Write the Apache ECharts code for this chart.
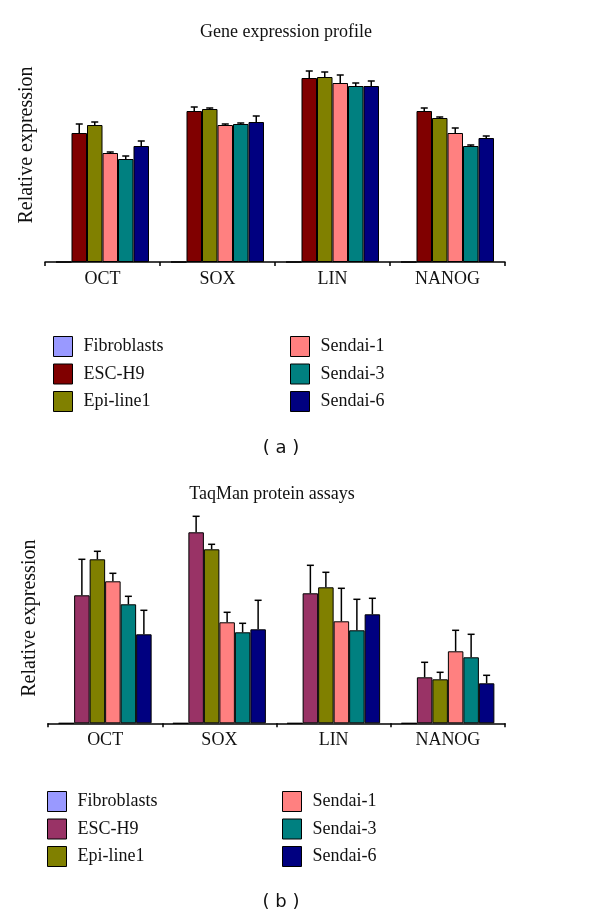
<!DOCTYPE html>
<html><head><meta charset="utf-8">
<script src="https://cdn.jsdelivr.net/npm/echarts@6/dist/echarts.min.js"></script>
<style>html,body{margin:0;padding:0;background:#fff;}#a{position:absolute;left:0;top:0;width:600px;height:460px;}#b{position:absolute;left:0;top:460px;width:600px;height:457px;}</style>
</head><body><div id="a"></div><div id="b"></div>
<script>
const categories = ['OCT','SOX','LIN','NANOG'];
const seriesNames = ['Fibroblasts','ESC-H9','Epi-line1','Sendai-1','Sendai-3','Sendai-6'];
const colorsA = ['#9999FF','#800000','#808000','#FF8080','#008080','#000080'];
const colorsB = ['#9999FF','#993366','#808000','#FF8080','#008080','#000080'];

// (a) Gene expression profile
const geneFib  = [0,0,0,0];
const geneEsc  = [1.29,1.51,1.84,1.51];
const geneEpi  = [1.37,1.53,1.85,1.44];
const geneS1   = [1.09,1.37,1.79,1.29];
const geneS3   = [1.03,1.38,1.76,1.16];
const geneS6   = [1.16,1.40,1.76,1.24];
// upper ends of error bars
const geneEscErr = [1.38,1.55,1.91,1.54];
const geneEpiErr = [1.40,1.54,1.90,1.45];
const geneS1Err  = [1.10,1.38,1.87,1.34];
const geneS3Err  = [1.06,1.39,1.79,1.17];
const geneS6Err  = [1.21,1.46,1.81,1.26];

// (b) TaqMan protein assays
const protFib  = [0,0,0,0];
const protEsc  = [1.28,1.91,1.30,0.46];
const protEpi  = [1.64,1.74,1.36,0.44];
const protS1   = [1.42,1.01,1.02,0.72];
const protS3   = [1.19,0.91,0.93,0.66];
const protS6   = [0.89,0.94,1.09,0.40];
const protEscErr = [1.64,2.07,1.58,0.61];
const protEpiErr = [1.72,1.79,1.51,0.51];
const protS1Err  = [1.50,1.11,1.35,0.93];
const protS3Err  = [1.27,1.00,1.24,0.89];
const protS6Err  = [1.13,1.23,1.25,0.48];

const SERIF = '"Liberation Serif", "Times New Roman", serif';
const BW = 15.5;

function build(el, cfg){
  const chart = echarts.init(document.getElementById(el), null, {renderer:'canvas'});
  const series = [];
  cfg.values.forEach((vals, i) => {
    series.push({
      name: seriesNames[i], type: 'bar', data: vals, barWidth: BW, barGap: '0%',
      itemStyle: {color: cfg.colors[i], borderColor: '#000', borderWidth: 1},
      emphasis: {disabled: true}, z: 2
    });
  });
  cfg.errs.forEach((errs, k) => {
    if (!errs) return;
    const idx = k;
    series.push({
      type: 'custom', name: seriesNames[idx] + '-err', z: 3, silent: true,
      data: errs.map((e, c) => [c, cfg.values[idx][c], e]),
      encode: {x: 0, y: [1, 2]},
      renderItem: function(params, api){
        const c = api.value(0);
        const base = api.coord([c, api.value(1)]);
        const top = api.coord([c, api.value(2)]);
        const x = base[0] + (idx - 2.5) * BW;
        return {type: 'group', children: [
          {type: 'line', shape: {x1: x, y1: base[1], x2: x, y2: top[1]}, style: {stroke: '#000', lineWidth: 1.5}},
          {type: 'line', shape: {x1: x - 3.5, y1: top[1], x2: x + 3.5, y2: top[1]}, style: {stroke: '#000', lineWidth: 1.5}}
        ]};
      }
    });
  });
  const legendCommon = {
    orient: 'vertical', padding: 0, itemWidth: 19, itemHeight: 20, itemGap: 6.5,
    icon: 'rect', selectedMode: false,
    itemStyle: {borderColor: '#000', borderWidth: 1},
    textStyle: {fontFamily: SERIF, fontSize: 18, color: '#111', lineHeight: 20, padding: [0,0,0,6]}
  };
  chart.setOption({
    animation: false,
    grid: {left: cfg.gridLeft, right: 95, top: cfg.gridTop, height: cfg.gridHeight, containLabel: false},
    xAxis: {
      type: 'category', data: categories,
      axisLine: {lineStyle: {color: '#000', width: 1.5}},
      axisTick: {show: true, length: 4, lineStyle: {color: '#000', width: 1.5}},
      axisLabel: {fontFamily: SERIF, fontSize: 18, color: '#111', margin: 8}
    },
    yAxis: {
      type: 'value', min: 0, max: cfg.yMax,
      axisLine: {show: false}, axisTick: {show: false}, axisLabel: {show: false}, splitLine: {show: false},
      name: 'Relative expression', nameLocation: 'middle', nameRotate: 90, nameGap: 8,
      nameTextStyle: {fontFamily: SERIF, fontSize: 20, color: '#111'}
    },
    legend: [
      Object.assign({}, legendCommon, {left: cfg.leg1, top: cfg.legTop, data: seriesNames.slice(0,3)}),
      Object.assign({}, legendCommon, {left: cfg.leg2, top: cfg.legTop, data: seriesNames.slice(3)})
    ],
    graphic: [
      {type: 'text', x: cfg.titleX, y: cfg.titleY, style: {text: cfg.title, font: '18px ' + SERIF, fill: '#111', align: 'center', verticalAlign: 'middle'}},
      {type: 'text', x: 281, y: cfg.capY, style: {text: cfg.caption, font: '18px "DejaVu Sans", sans-serif', fill: '#111', align: 'center', verticalAlign: 'middle'}}
    ],
    series: series
  });
}

build('a', {
  values: [geneFib, geneEsc, geneEpi, geneS1, geneS3, geneS6],
  errs: [null, geneEscErr, geneEpiErr, geneS1Err, geneS3Err, geneS6Err],
  colors: colorsA, gridLeft: 45, gridTop: 28, gridHeight: 234, yMax: 2.34,
  leg1: 53, leg2: 290, legTop: 336,
  title: 'Gene expression profile', titleX: 286, titleY: 32,
  caption: '( a )', capY: 448
});
build('b', {
  values: [protFib, protEsc, protEpi, protS1, protS3, protS6],
  errs: [null, protEscErr, protEpiErr, protS1Err, protS3Err, protS6Err],
  colors: colorsB, gridLeft: 48, gridTop: 53, gridHeight: 210.3, yMax: 2.103,
  leg1: 47, leg2: 282, legTop: 331,
  title: 'TaqMan protein assays', titleX: 272, titleY: 34,
  caption: '( b )', capY: 442
});
</script></body></html>
